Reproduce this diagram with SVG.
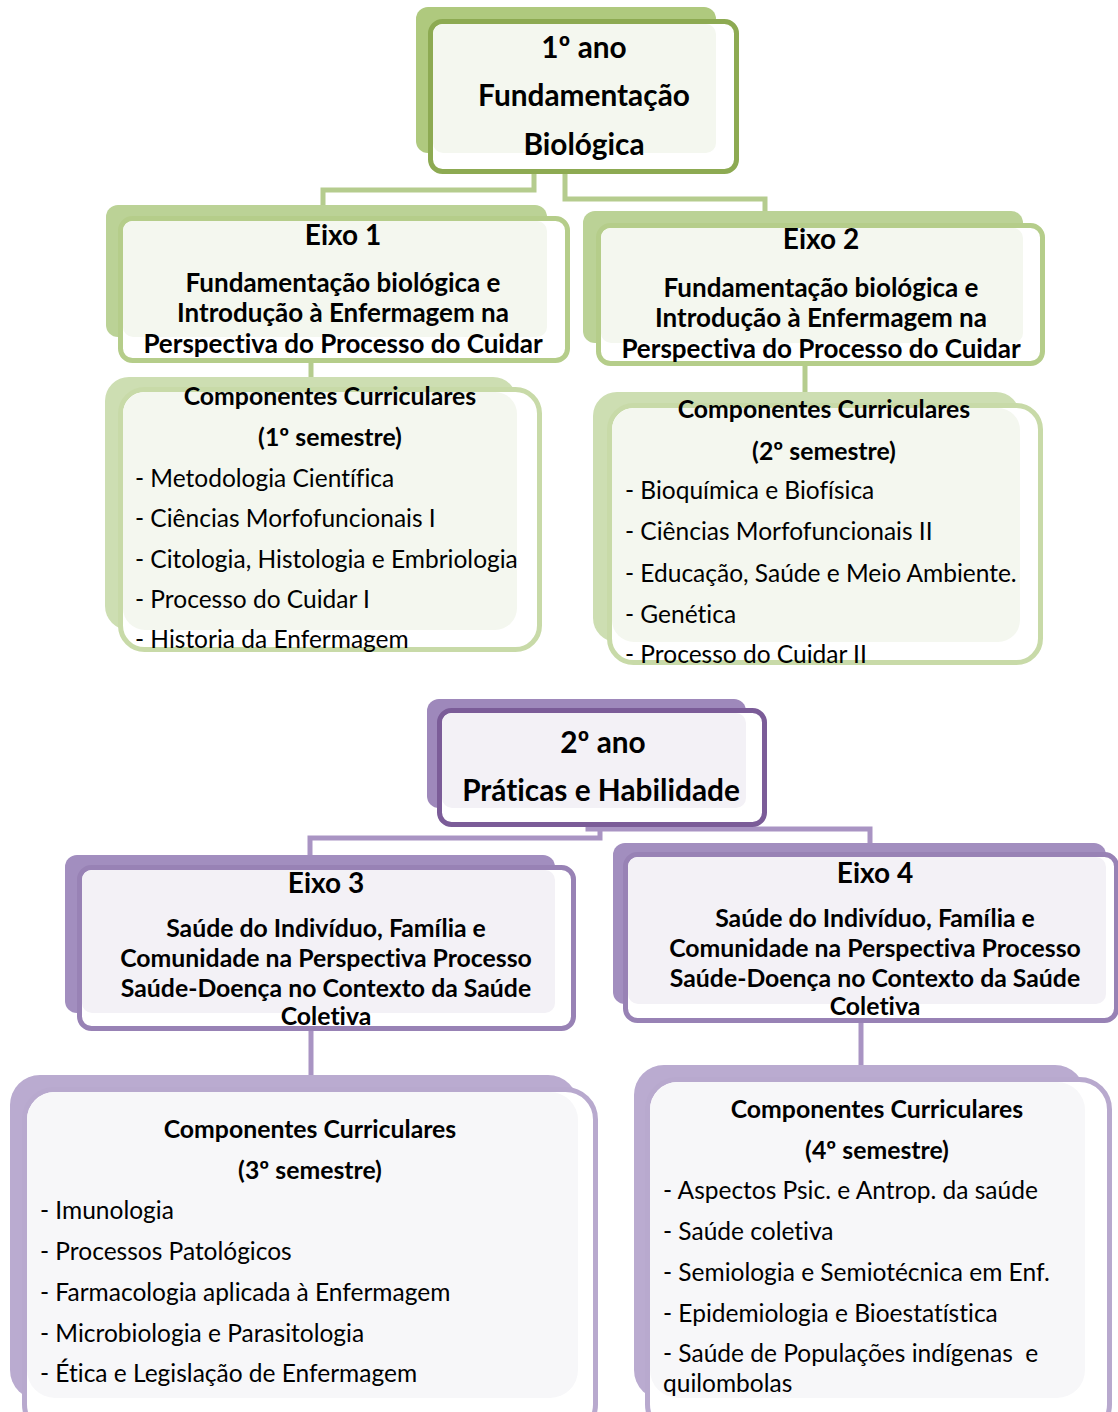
<svg xmlns="http://www.w3.org/2000/svg" width="1118" height="1412" viewBox="0 0 1118 1412">
<style>
  .t { font-family: Lato, "Liberation Sans", sans-serif; fill: #000; font-variant-ligatures: none; }
  .yr { font-size: 29.8px; font-weight: bold; text-anchor: middle; }
  .ex { font-size: 28px; font-weight: bold; text-anchor: middle; }
  .ed { font-size: 26px; font-weight: bold; text-anchor: middle; }
  .ed3 { font-size: 24.8px; font-weight: bold; text-anchor: middle; }
  .ch { font-size: 24.8px; font-weight: bold; text-anchor: middle; }
  .it { font-size: 24.5px; }
  .g-back1 { fill: #AFC97E; }
  .g-front1 { fill: #fff; stroke: #8DAA52; stroke-width: 5; }
  .g-back2 { fill: #BBD296; }
  .g-front2 { fill: #fff; stroke: #B5CD8A; stroke-width: 5; }
  .g-back3 { fill: #CDDEB2; }
  .g-front3 { fill: #fff; stroke: #C8DAA8; stroke-width: 5; }
  .g-tint { fill: #F4F7EF; }
  .p-back1 { fill: #9E88BB; }
  .p-front1 { fill: #fff; stroke: #7B5C98; stroke-width: 5; }
  .p-back2 { fill: #A28EBF; }
  .p-front2 { fill: #fff; stroke: #9882B5; stroke-width: 5; }
  .p-back3 { fill: #BAABD0; }
  .p-front3 { fill: #fff; stroke: #B8A9CE; stroke-width: 5; }
  .p-tint { fill: #F3F1F6; }
  .p-tint3 { fill: #F7F7F9; }
  .cg { fill: none; stroke: #B5CC8E; stroke-width: 5; }
  .cp { fill: none; stroke: #A994C3; stroke-width: 5; }
</style>
<g id="connectors">
  <path class="cg" d="M534 160 V190 H323 V208"/>
  <path class="cg" d="M565 160 V199 H765 V214"/>
  <path class="cg" d="M311 360 V380"/>
  <path class="cg" d="M805 362 V394"/>
  <path class="cp" d="M600 815 V838 H310 V857"/>
  <path class="cp" d="M588 815 V829 H870 V845"/>
  <path class="cp" d="M311 1029 V1078 H295 V1090"/>
  <path class="cp" d="M861 1021 V1067"/>
</g>
<g id="ano1">
  <rect class="g-back1" x="416" y="7" width="300" height="146" rx="12"/>
  <rect class="g-front1" x="430.5" y="21.5" width="306" height="150" rx="12"/>
  <rect class="g-tint" x="433" y="24" width="283" height="129" rx="10"/>
  <text class="t yr" x="584" y="58">1º ano</text>
  <text class="t yr" x="584" y="106">Fundamentação</text>
  <text class="t yr" x="584" y="155">Biológica</text>
</g>
<g id="eixo1">
  <rect class="g-back2" x="106" y="205" width="441" height="132" rx="12"/>
  <rect class="g-front2" x="120.5" y="218.5" width="447" height="142" rx="12"/>
  <rect class="g-tint" x="123" y="221" width="424" height="116" rx="10"/>
  <text class="t ex" x="343" y="245">Eixo 1</text>
  <text class="t ed" x="343" y="292">Fundamentação biológica e</text>
  <text class="t ed" x="343" y="322">Introdução à Enfermagem na</text>
  <text class="t ed" x="343" y="353">Perspectiva do Processo do Cuidar</text>
</g>
<g id="eixo2">
  <rect class="g-back2" x="583" y="211" width="440" height="132" rx="12"/>
  <rect class="g-front2" x="598.5" y="225.5" width="444" height="138" rx="12"/>
  <rect class="g-tint" x="601" y="228" width="422" height="115" rx="10"/>
  <text class="t ex" x="821" y="249">Eixo 2</text>
  <text class="t ed" x="821" y="297">Fundamentação biológica e</text>
  <text class="t ed" x="821" y="327">Introdução à Enfermagem na</text>
  <text class="t ed" x="821" y="358">Perspectiva do Processo do Cuidar</text>
</g>
<g id="comp1">
  <rect class="g-back3" x="105" y="377" width="412" height="253" rx="24"/>
  <rect class="g-front3" x="120.5" y="389.5" width="419" height="260" rx="24"/>
  <rect class="g-tint" x="123" y="392" width="394" height="238" rx="22"/>
  <text class="t ch" x="330" y="405">Componentes Curriculares</text>
  <text class="t ch" x="330" y="446">(1º semestre)</text>
  <text class="t it" x="135" y="487">- Metodologia Científica</text>
  <text class="t it" x="135" y="527">- Ciências Morfofuncionais I</text>
  <text class="t it" x="135" y="568">- Citologia, Histologia e Embriologia</text>
  <text class="t it" x="135" y="608">- Processo do Cuidar I</text>
  <text class="t it" x="135" y="648">- Historia da Enfermagem</text>
</g>
<g id="comp2">
  <rect class="g-back3" x="593" y="392" width="427" height="250" rx="24"/>
  <rect class="g-front3" x="609.5" y="405.5" width="431" height="257" rx="24"/>
  <rect class="g-tint" x="612" y="408" width="408" height="234" rx="22"/>
  <text class="t ch" x="824" y="418">Componentes Curriculares</text>
  <text class="t ch" x="824" y="460">(2º semestre)</text>
  <text class="t it" x="625" y="499">- Bioquímica e Biofísica</text>
  <text class="t it" x="625" y="540">- Ciências Morfofuncionais II</text>
  <text class="t it" x="625" y="582">- Educação, Saúde e Meio Ambiente.</text>
  <text class="t it" x="625" y="623">- Genética</text>
  <text class="t it" x="625" y="663">- Processo do Cuidar II</text>
</g>
<g id="ano2">
  <rect class="p-back1" x="427" y="699" width="319" height="109" rx="12"/>
  <rect class="p-front1" x="439.5" y="710.5" width="325" height="114" rx="12"/>
  <rect class="p-tint" x="442" y="713" width="304" height="95" rx="10"/>
  <text class="t yr" x="603" y="753">2º ano</text>
  <text class="t yr" x="601" y="801">Práticas e Habilidade</text>
</g>
<g id="eixo3">
  <rect class="p-back2" x="65" y="855" width="490" height="158" rx="12"/>
  <rect class="p-front2" x="79.5" y="867.5" width="494" height="161" rx="12"/>
  <rect class="p-tint" x="82" y="870" width="473" height="143" rx="10"/>
  <text class="t ex" x="326" y="893">Eixo 3</text>
  <text class="t ed3" x="326" y="937">Saúde do Indivíduo, Família e</text>
  <text class="t ed3" x="326" y="967">Comunidade na Perspectiva Processo</text>
  <text class="t ed3" x="326" y="997">Saúde-Doença no Contexto da Saúde</text>
  <text class="t ed3" x="326" y="1025">Coletiva</text>
</g>
<g id="eixo4">
  <rect class="p-back2" x="613" y="843" width="493" height="161" rx="12"/>
  <rect class="p-front2" x="625.5" y="854.5" width="491" height="166" rx="12"/>
  <rect class="p-tint" x="628" y="857" width="478" height="147" rx="10"/>
  <text class="t ex" x="875" y="883">Eixo 4</text>
  <text class="t ed3" x="875" y="927">Saúde do Indivíduo, Família e</text>
  <text class="t ed3" x="875" y="957">Comunidade na Perspectiva Processo</text>
  <text class="t ed3" x="875" y="987">Saúde-Doença no Contexto da Saúde</text>
  <text class="t ed3" x="875" y="1015">Coletiva</text>
</g>
<g id="comp3">
  <rect class="p-back3" x="10" y="1075" width="568" height="325" rx="30"/>
  <rect class="p-front3" x="24.5" y="1089.5" width="571" height="345" rx="30"/>
  <rect class="p-tint3" x="27" y="1092" width="551" height="306" rx="28"/>
  <text class="t ch" x="310" y="1138">Componentes Curriculares</text>
  <text class="t ch" x="310" y="1179">(3º semestre)</text>
  <text class="t it" x="40" y="1219">- Imunologia</text>
  <text class="t it" x="40" y="1260">- Processos Patológicos</text>
  <text class="t it" x="40" y="1301">- Farmacologia aplicada à Enfermagem</text>
  <text class="t it" x="40" y="1342">- Microbiologia e Parasitologia</text>
  <text class="t it" x="40" y="1382">- Ética e Legislação de Enfermagem</text>
</g>
<g id="comp4">
  <rect class="p-back3" x="634" y="1065" width="451" height="335" rx="30"/>
  <rect class="p-front3" x="647.5" y="1079.5" width="462" height="355" rx="30"/>
  <rect class="p-tint3" x="650" y="1082" width="435" height="316" rx="28"/>
  <text class="t ch" x="877" y="1118">Componentes Curriculares</text>
  <text class="t ch" x="877" y="1159">(4º semestre)</text>
  <text class="t it" x="663" y="1199">- Aspectos Psic. e Antrop. da saúde</text>
  <text class="t it" x="663" y="1240">- Saúde coletiva</text>
  <text class="t it" x="663" y="1281">- Semiologia e Semiotécnica em Enf.</text>
  <text class="t it" x="663" y="1322">- Epidemiologia e Bioestatística</text>
  <text class="t it" x="663" y="1362" xml:space="preserve">- Saúde de Populações indígenas  e</text>
  <text class="t it" x="663" y="1392">quilombolas</text>
</g>
</svg>
